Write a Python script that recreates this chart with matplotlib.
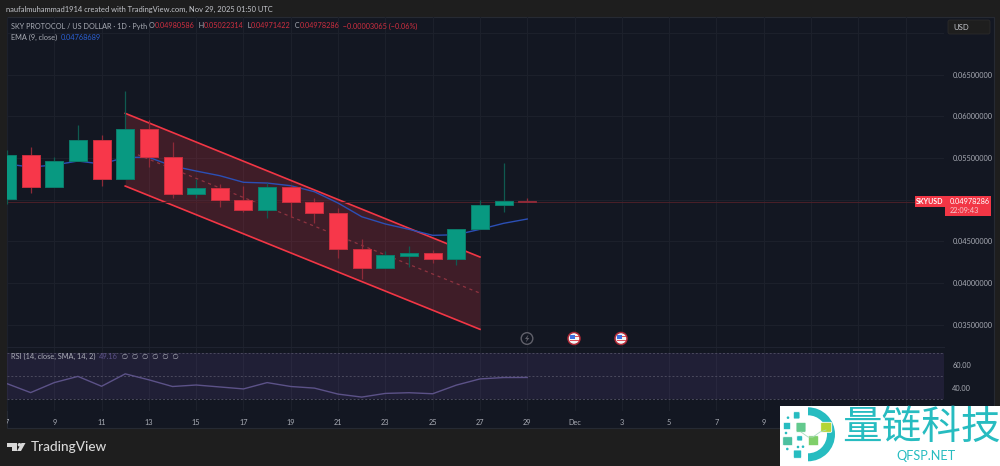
import matplotlib
matplotlib.use("Agg")
import matplotlib.pyplot as plt
from matplotlib.patches import Rectangle, Circle, Wedge, FancyBboxPatch, Polygon
from matplotlib.transforms import Bbox

days = list(range(7, 30))
opens = [.05005,.05536,.05149,.05464,.05716,.05245,.05844,.05508,.05065,.05144,.05000,.04873,
         .05156,.04969,.04844,.04409,.04181,.04329,.04361,.04293,.04645,.04936,.04980586]
highs = [.05596,.05635,.05508,.05896,.05776,.06307,.05956,.05695,.05248,.05185,.05164,.05197,
         .05176,.05017,.04904,.04525,.04389,.04445,.04397,.04645,.04996,.05436,.05022314]
lows = [.04948,.05084,.05149,.05464,.05168,.05245,.05396,.05017,.05024,.04909,.04856,.04784,
        .04796,.04724,.04297,.04053,.04181,.04190,.04237,.04221,.04645,.04856,.04971422]
closes = [.05536,.05149,.05464,.05716,.05245,.05844,.05508,.05065,.05144,.05000,.04873,.05156,
          .04969,.04844,.04409,.04181,.04333,.04361,.04293,.04645,.04936,.04988,.04978286]
ema = [.05428,.05392,.05416,.05464,.05428,.05508,.05508,.05404,.05344,.05288,.05209,.05200,
       .05168,.05096,.04960,.04796,.04709,.04645,.04573,.04580,.04645,.04717,.04768689]
rsi = [43.8,36.0,44.7,50.1,41.5,52.3,47.1,41.3,42.6,40.9,39.2,44.7,
       41.3,39.9,34.7,32.1,35.3,35.9,35.0,42.5,47.9,49.1,49.16]
channel_days = [12, 27]
channel_upper = [.06036, .04313]
channel_lower = [.05164, .03446]
channel_mid = [.05600, .03880]
last_price = .04978286
price_ticks = [.035, .040, .045, .050, .055, .060, .065, .070]
price_labels = ["0.03500000", "0.04000000", "0.04500000", "", "0.05500000", "0.06000000", "0.06500000", ""]
time_ticks = list(range(7, 47, 2))
time_labels = ["7","9","11","13","15","17","19","21","23","25","27","29","Dec","3","5","7","9","","",""]
rsi_levels = [70, 50, 30]

FONT = ["Lato", "DejaVu Sans"]
plt.rcParams["font.family"] = FONT
OUTER, PANEL, GRID = "#1e1e1e", "#131722", "#1c202b"
GREEN, RED = "#089981", "#f7374a"
GREEN_E, RED_E = "#0b7d6b", "#c92f3f"
GREEN_W, RED_W = "#0f5a50", "#8e2a38"
TXT = "#a9acb5"
AXSIZE = 5.3

fig = plt.figure(figsize=(10, 4.66), dpi=100, facecolor=OUTER)

def px_axes(x0, y0, x1, y1, **kw):
    return fig.add_axes([x0/1000, 1-y1/466, (x1-x0)/1000, (y1-y0)/466], **kw)

bg = px_axes(0, 0, 1000, 466, zorder=0)
bg.set_xlim(0, 1000); bg.set_ylim(466, 0); bg.axis("off")
bg.add_patch(Rectangle((6.5, 17), 987.5, 411, fc=PANEL, ec="#262a33", lw=0.8))

xlim = (6.98, 46.62)
ax = px_axes(6.5, 17, 944, 347, zorder=1, facecolor="none")
ax.set_xlim(*xlim)
ax.set_ylim(.03234, .07191)
ax.set_yticks(price_ticks, price_labels)
ax.yaxis.tick_right()
ax.set_xticks(time_ticks, [""]*len(time_ticks))
ax.set_axisbelow(True)
ax.grid(True, color=GRID, lw=0.8)
ax.tick_params(length=0, labelsize=AXSIZE, labelcolor=TXT, pad=6)
for s in ax.spines.values():
    s.set_visible(False)

ax.fill_between(channel_days, channel_lower, channel_upper, color="#f23645", alpha=0.2, lw=0, zorder=1)
ax.plot(channel_days, channel_upper, color="#f23645", lw=1.2, zorder=2)
ax.plot(channel_days, channel_lower, color="#f23645", lw=1.2, zorder=2)
ax.plot(channel_days, channel_mid, color="#8f3340", lw=0.9, ls=(0, (2.5, 3)), zorder=2)
ax.axhline(last_price, color="#4a2029", lw=0.7, zorder=2)
ax.plot(days, ema, color="#2b4fb5", lw=1.0, zorder=3)

for d, o, h, l, c in zip(days, opens, highs, lows, closes):
    up = c >= o
    thin = abs(c-o) < .0001
    edge = (GREEN_W if up else RED_W) if thin else (GREEN_E if up else RED_E)
    ax.vlines(d, l, h, color=GREEN_W if up else RED_W, lw=0.9, zorder=4)
    ax.bar(d, abs(c-o), bottom=min(o, c), width=0.76, color=edge if thin else (GREEN if up else RED),
           edgecolor=edge, lw=0.7, zorder=5)

rx = px_axes(6.5, 347, 944, 411, zorder=1, facecolor="none")
rx.set_xlim(*xlim)
rx.set_ylim(20.0, 75.65)
rx.axhspan(rsi_levels[2], rsi_levels[0], color="#7e57c2", alpha=0.13, lw=0, zorder=1)
for lv in rsi_levels:
    rx.axhline(lv, color="#4b4a5e", lw=0.7, ls=(0, (2, 2)), zorder=2)
rx.plot(days, rsi, color="#5c5288", lw=1.0, zorder=3)
rx.set_yticks([40, 60], ["40.00", "60.00"])
rx.yaxis.tick_right()
rx.set_xticks(time_ticks, time_labels)
rx.set_axisbelow(True)
rx.grid(True, axis="x", color=GRID, lw=0.8)
rx.tick_params(axis="y", length=0, labelsize=AXSIZE, labelcolor=TXT, pad=6)
rx.tick_params(axis="x", length=0, labelsize=AXSIZE, labelcolor=TXT, pad=6)
for s in rx.spines.values():
    s.set_visible(False)
rx.spines["top"].set_visible(True)
rx.spines["top"].set_color("#1f2330")
for lab in rx.get_xticklabels():
    lab.set_clip_on(True)
    lab.set_clip_box(Bbox([[6.5, 0], [1000, 466]]))

top = px_axes(0, 0, 1000, 466, zorder=5, facecolor="none")
top.set_xlim(0, 1000); top.set_ylim(466, 0); top.axis("off")

def seq(x, y, parts, size=5.3):
    r = fig.canvas.get_renderer()
    for s, col in parts:
        t = top.text(x, y, s, color=col, fontsize=size, va="center", ha="left")
        x += t.get_window_extent(r).width

seq(6, 9.5, [("naufalmuhammad1914 created with TradingView.com, Nov 29, 2025 01:50 UTC", "#c4c6cc")], 5.45)
R = "#d12f40"
seq(11, 26, [("SKY PROTOCOL / US DOLLAR · 1D · Pyth ", TXT), ("O", TXT), ("0.04980586", R), ("  H", TXT), ("0.05022314", R),
             ("  L", TXT), ("0.04971422", R), ("  C", TXT), ("0.04978286", R), ("  −0.00003065 (−0.06%)", R)], 5.2)
seq(11, 37, [("EMA (9, close)  ", TXT), ("0.04768689", "#2b5fd0")])
seq(11, 356.5, [("RSI (14, close, SMA, 14, 2)  ", TXT), ("49.16", "#5c5288"), ("  ∅  ∅  ∅  ∅  ∅  ∅", TXT)])

# TradingView mark and wordmark
top.add_patch(Polygon([(7.3,443),(16.5,443),(16.5,451),(12.3,451),(12.3,446.5),(7.3,446.5)], fc="#d8d8d8", lw=0))
top.add_patch(Circle((19.5, 444.8), 1.8, fc="#d8d8d8", lw=0))
top.add_patch(Polygon([(21.5,443),(25.5,443),(21,451),(17,451)], fc="#d8d8d8", lw=0))
top.text(30.5, 447, "TradingView", color="#d8d8d8", fontsize=9.8, va="center", ha="left", fontweight="medium")

# USD box
top.add_patch(FancyBboxPatch((948, 20), 42, 14, boxstyle="round,pad=0,rounding_size=2", fc="#1e1e1e", ec="#2a2a2a", lw=0.6))
top.text(953, 27, "USD", color="#c4c6cc", fontsize=5.6, va="center")

# last price tags
top.add_patch(Rectangle((914.5, 196), 30, 10.5, fc="#f23645", lw=0))
top.text(929.5, 201.3, "SKYUSD", color="white", fontsize=5, va="center", ha="center", fontweight="bold")
top.add_patch(Rectangle((945, 196), 46, 19.5, fc="#f23645", lw=0))
top.text(950, 201.5, "0.04978286", color="white", fontsize=AXSIZE, va="center")
top.text(950, 210.5, "22:09:43", color="#f5c6cb", fontsize=AXSIZE, va="center")

# event icons
top.add_patch(Circle((527, 338.5), 5.8, fc=PANEL, ec="#60606a", lw=1))
top.add_patch(Polygon([(528.5,334.5),(525,339),(527,339),(525.8,342.5),(529.3,338),(527.3,338)], fc="#60606a", lw=0))
for cx in (574, 621):
    top.add_patch(Circle((cx, 338.5), 6, fc="#f4f4f4", ec="#b02a37", lw=1.1))
    top.add_patch(Rectangle((cx-4.5, 334.5), 5, 4, fc="#3f6fe0", lw=0))
    top.add_patch(Rectangle((cx+0.5, 335.5), 4, 1, fc="#e0505c", lw=0))
    top.add_patch(Rectangle((cx-4.5, 339.5), 9, 1.2, fc="#e0505c", lw=0))

# watermark
top.add_patch(Rectangle((780, 405.7), 220, 60.3, fc="white", lw=0))
TEAL = "#27bcc0"
top.add_patch(Wedge((808, 434.3), 27, -90, 90, width=8, fc=TEAL, lw=0))
top.plot([801, 808, 813, 820, 826], [432, 437, 437, 432, 430], color="#a8dcc0", lw=0.6)
for x0, y0, x1, y1, c in [(793.3,411.7,800,419,TEAL),(783.3,422.3,790.7,429.7,TEAL),
                          (796,422.3,806,432.3,"#63c98d"),(820.7,422.3,831.7,432.3,"#b3d534"),
                          (782.7,436.7,792.7,445.7,"#4cc0a0"),(808.3,435.7,818.7,445.7,"#7fcf6a"),
                          (796.7,435.7,802.7,441,TEAL),(793.3,450,801.7,458.3,TEAL)]:
    top.add_patch(FancyBboxPatch((x0, y0), x1-x0, y1-y0, boxstyle="round,pad=0,rounding_size=1.2",
                                 fc=c, ec="white", lw=0.6))
for x, y in [(787.3,449),(788,417.7),(803,446.7),(786,433),(798,447)]:
    top.add_patch(Circle((x, y), 1.3, fc=TEAL, lw=0))
top.text(921, 427.5, "量链科技", color=TEAL, fontsize=28.5, va="center", ha="center",
         family=["Noto Sans CJK SC", "DejaVu Sans"])
top.text(926, 455.5, "QFSP.NET", color=TEAL, fontsize=9.2, va="center", ha="center")

fig.savefig("out.png", dpi=100, facecolor=OUTER)
